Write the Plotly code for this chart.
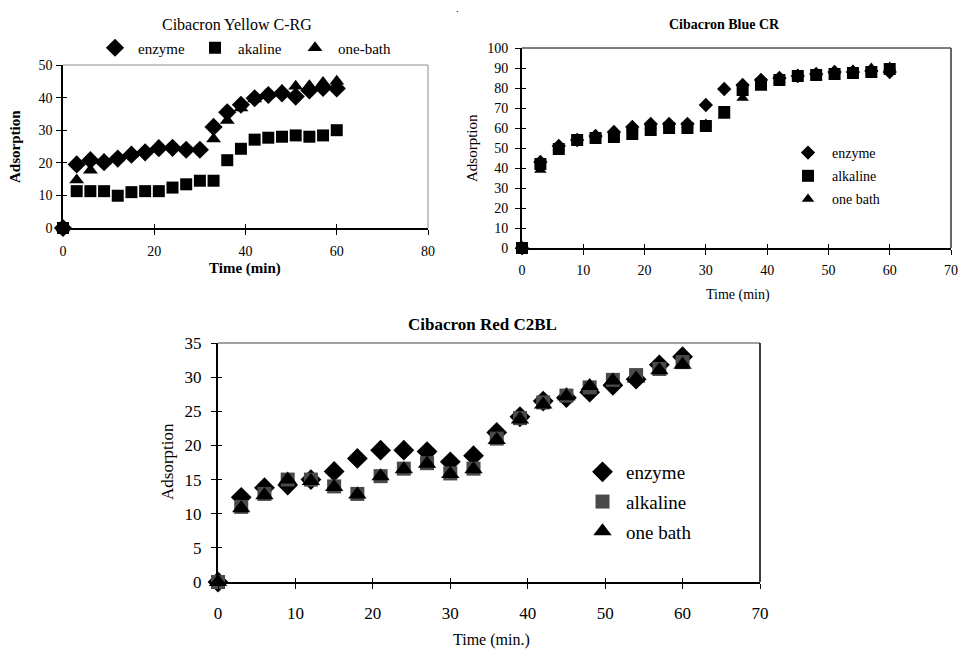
import plotly.graph_objects as go

# ---------------- data ----------------
time_min = [0, 3, 6, 9, 12, 15, 18, 21, 24, 27, 30, 33, 36, 39, 42, 45, 48, 51, 54, 57, 60]

yellow_enzyme = [0, 19.5, 20.8, 20.2, 21.3, 22.5, 23.2, 24.5, 24.6, 24.0, 24.0, 31.0, 35.5, 37.8, 39.8, 40.8, 41.3, 40.3, 42.2, 43.0, 42.8]
yellow_alkaline = [0, 11.3, 11.3, 11.3, 9.9, 11.0, 11.3, 11.3, 12.4, 13.4, 14.5, 14.5, 20.8, 24.3, 27.1, 27.7, 28.0, 28.4, 28.0, 28.4, 30.0]
yellow_onebath = [0, 14.7, 17.7, 20.5, 21.5, 22.7, 23.5, 25.0, 25.0, 24.5, 24.5, 27.3, 33.0, 36.8, 39.6, 41.0, 42.2, 43.5, 43.6, 44.6, 45.0]

blue_enzyme = [0, 43.0, 51.0, 54.0, 56.0, 58.0, 60.5, 62.0, 62.0, 62.0, 71.5, 79.5, 81.5, 84.0, 85.0, 86.0, 87.0, 88.0, 88.0, 88.5, 88.0]
blue_alkaline = [0, 42.0, 49.5, 54.0, 55.0, 55.5, 57.0, 59.0, 60.0, 60.0, 61.0, 68.0, 79.0, 82.0, 84.0, 86.0, 86.5, 87.0, 87.5, 88.0, 89.5]
blue_onebath = [0, 39.0, 50.0, 54.0, 56.5, 58.0, 60.0, 61.0, 61.5, 61.5, 62.0, 66.0, 75.0, 80.0, 84.0, 87.0, 87.5, 88.5, 89.0, 90.0, 90.5]

red_enzyme = [0, 12.4, 13.8, 14.2, 15.0, 16.2, 18.1, 19.3, 19.3, 19.1, 17.6, 18.5, 21.9, 24.2, 26.5, 27.0, 27.8, 28.8, 29.7, 31.8, 33.0]
red_alkaline = [0, 11.0, 12.9, 15.0, 15.0, 14.0, 12.9, 15.5, 16.6, 17.4, 15.9, 16.6, 21.0, 24.0, 26.3, 27.3, 28.5, 29.6, 30.3, 31.2, 32.2]
red_onebath = [0, 10.8, 12.7, 15.0, 14.8, 13.9, 12.8, 15.5, 16.5, 17.3, 15.8, 16.5, 20.8, 23.8, 26.0, 27.2, 28.7, 29.5, 29.8, 31.0, 31.8]

yellow_names = ["enzyme", "akaline", "one-bath"]
blue_names = ["enzyme", "alkaline", "one bath"]
red_names = ["enzyme", "alkaline", "one bath"]

yellow_xticks = [0, 20, 40, 60, 80]
yellow_yticks = [0, 10, 20, 30, 40, 50]
blue_xticks = [0, 10, 20, 30, 40, 50, 60, 70]
blue_yticks = [0, 10, 20, 30, 40, 50, 60, 70, 80, 90, 100]
red_xticks = [0, 10, 20, 30, 40, 50, 60, 70]
red_yticks = [0, 5, 10, 15, 20, 25, 30, 35]

# ---------------- helpers ----------------
W, H = 959, 650
FONT = "Liberation Serif, Times New Roman, serif"


def px(x):
    return x / W


def py(y):
    return 1 - y / H


fig = go.Figure()

symbols = ["diamond", "square", "triangle-up"]


def add_group(ys, names, xa, ya, legend, colors, sizes):
    for i in range(3):
        fig.add_trace(go.Scatter(
            x=time_min, y=ys[i], mode="markers", name=names[i],
            marker=dict(symbol=symbols[i], size=sizes[i], color=colors[i], line=dict(width=0)),
            xaxis=xa, yaxis=ya, legend=legend, legendgroup=legend + str(i),
            cliponaxis=False, hoverinfo="x+y",
        ))


add_group([yellow_enzyme, yellow_alkaline, yellow_onebath], yellow_names, "x", "y", "legend",
          ["black", "black", "black"], [14, 12, 13])
add_group([blue_enzyme, blue_alkaline, blue_onebath], blue_names, "x2", "y2", "legend2",
          ["black", "black", "black"], [11, 12, 11])
add_group([red_enzyme, red_alkaline, red_onebath], red_names, "x3", "y3", "legend3",
          ["black", "#4a4a4a", "black"], [16, 14, 16])

# invisible traces so that the overlay (inside-tick) axes are drawn
for xa, ya in [("x4", "y"), ("x5", "y2"), ("x6", "y3"), ("x", "y4"), ("x2", "y5"), ("x3", "y6")]:
    fig.add_trace(go.Scatter(x=[None], y=[None], xaxis=xa, yaxis=ya, showlegend=False, hoverinfo="skip"))


def ax(domain, anchor, rng, tickvals, fsize, lw, standoff):
    return dict(domain=domain, anchor=anchor, range=rng, tickvals=tickvals, ticks="outside", ticklen=5,
                tickcolor="black", tickwidth=1, showline=True, linecolor="black", linewidth=lw,
                showgrid=False, zeroline=False, tickfont=dict(family=FONT, size=fsize, color="black"),
                ticklabelstandoff=standoff, fixedrange=True, automargin=False)


def ov(overlay, anchor, rng, tickvals, side):
    return dict(overlaying=overlay, anchor=anchor, range=rng, tickvals=tickvals, ticks="inside", ticklen=4,
                tickcolor="black", tickwidth=1, showline=False, showgrid=False, zeroline=False,
                showticklabels=False, side=side, fixedrange=True, automargin=False)


xd1 = [px(63), px(428)]; yd1 = [py(228), py(65)]
xd2 = [px(522), px(951)]; yd2 = [py(248), py(48)]
xd3 = [px(218), px(760)]; yd3 = [py(582), py(343)]

fig.update_layout(
    width=W, height=H, margin=dict(l=0, r=0, t=0, b=0, autoexpand=False),
    paper_bgcolor="white", plot_bgcolor="white",
    font=dict(family=FONT, color="black"),
    xaxis=ax(xd1, "y", [0, 80], yellow_xticks, 14, 1.5, 4),
    yaxis=ax(yd1, "x", [0, 50], yellow_yticks, 14, 1.5, 1),
    xaxis2=ax(xd2, "y2", [0, 70], blue_xticks, 14, 2, 3),
    yaxis2=ax(yd2, "x2", [0, 100], blue_yticks, 14, 2, 4),
    xaxis3=ax(xd3, "y3", [0, 70], red_xticks, 17, 2, 10),
    yaxis3=ax(yd3, "x3", [0, 35], red_yticks, 17, 2, 6),
    xaxis4=ov("x", "y", [0, 80], yellow_xticks, "bottom"),
    xaxis5=ov("x2", "y2", [0, 70], blue_xticks, "bottom"),
    xaxis6=ov("x3", "y3", [0, 70], red_xticks, "bottom"),
    yaxis4=ov("y", "x", [0, 50], yellow_yticks, "left"),
    yaxis5=ov("y2", "x2", [0, 100], blue_yticks, "left"),
    yaxis6=ov("y3", "x3", [0, 35], red_yticks, "left"),
    legend=dict(orientation="h", x=px(92), y=py(48), xanchor="left", yanchor="middle",
                entrywidth=49, entrywidthmode="pixels", itemwidth=36, font=dict(family=FONT, size=15),
                bgcolor="rgba(0,0,0,0)", itemclick=False, itemdoubleclick=False),
    legend2=dict(x=px(784), y=py(137), xanchor="left", yanchor="top", tracegroupgap=2, itemwidth=38,
                 font=dict(family=FONT, size=14), bgcolor="rgba(0,0,0,0)",
                 itemclick=False, itemdoubleclick=False),
    legend3=dict(x=px(579), y=py(453), xanchor="left", yanchor="top", tracegroupgap=2, itemwidth=37,
                 font=dict(family=FONT, size=19), bgcolor="rgba(0,0,0,0)",
                 itemclick=False, itemdoubleclick=False),
    showlegend=True,
)

# plot-area borders (top / right)
borders = [
    ("x", "y", "#8c8c8c", 1, "#8c8c8c", 1),
    ("x2", "y2", "black", 1, "#333333", 1.5),
    ("x3", "y3", "#444444", 1, "black", 1.5),
]
for xa, ya, ctop, wtop, cright, wright in borders:
    fig.add_shape(type="line", xref=xa + " domain", yref=ya + " domain", x0=0, x1=1, y0=1, y1=1,
                  line=dict(color=ctop, width=wtop), layer="below")
    fig.add_shape(type="line", xref=xa + " domain", yref=ya + " domain", x0=1, x1=1, y0=0, y1=1,
                  line=dict(color=cright, width=wright), layer="below")

annotations = [
    ("Cibacron Yellow C-RG", 237, 24, 16, 0),
    ("<b>Time (min)</b>", 245, 268, 15, 0),
    ("<b>Adsorption</b>", 15, 147, 15, -90),
    ("<b>Cibacron Blue CR</b>", 724, 25, 14, 0),
    ("Time (min)", 738, 295, 14, 0),
    ("Adsorption", 472, 148, 15, -90),
    ("<b>Cibacron Red C2BL</b>", 482, 324, 17, 0),
    ("Time (min.)", 491, 640, 16, 0),
    ("Adsorption", 167, 462, 17, -90),
    (".", 457, 8, 10, 0),
]
for text, x, y, size, angle in annotations:
    fig.add_annotation(text=text, x=px(x), y=py(y), xref="paper", yref="paper", showarrow=False,
                       xanchor="center", yanchor="middle", textangle=angle,
                       font=dict(family=FONT, size=size, color="black"))

fig.write_html(
    "out.html",
    config={"displayModeBar": False},
    post_script="document.body.style.margin='0';document.body.style.overflow='hidden';",
)
